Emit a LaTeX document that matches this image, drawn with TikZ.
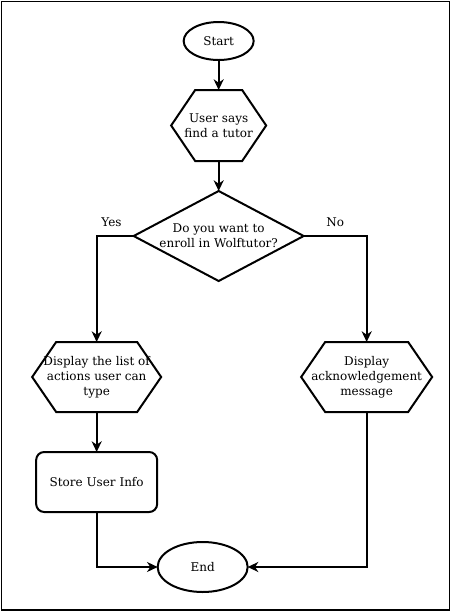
\documentclass[tikz,border=0pt]{standalone}
\usepackage{fontspec}
\setmainfont{DejaVu Serif}
\usetikzlibrary{positioning, shapes.geometric, arrows.meta}

\begin{document}
\begin{tikzpicture}[
    >={Stealth[length=8pt, width=7.5pt, inset=2.5pt]},
    line width=1.5pt,
    arrow/.style={
        ->,
        line width=1.5pt
    },
    terminal/.style={
        ellipse,
        draw,
        inner sep=0pt,
        outer sep=0pt,
        font=\fontsize{9}{11.25}\selectfont
    },
    hexa/.style={
        rectangle,
        inner sep=0pt,
        outer sep=0pt,
        minimum height=52.5pt,
        align=center,
        font=\fontsize{9}{11.25}\selectfont,
        append after command={
            \pgfextra{
                \draw[line width=1.5pt, line join=miter]
                    (\tikzlastnode.west)
                    -- ([xshift=18pt]\tikzlastnode.north west)
                    -- ([xshift=-18pt]\tikzlastnode.north east)
                    -- (\tikzlastnode.east)
                    -- ([xshift=-18pt]\tikzlastnode.south east)
                    -- ([xshift=18pt]\tikzlastnode.south west)
                    -- cycle;
            }
        }
    },
    decision/.style={
        diamond,
        draw,
        aspect=1.89,
        inner sep=0pt,
        outer sep=0pt,
        minimum width=127.5pt,
        minimum height=67.5pt,
        align=center,
        font=\fontsize{9}{11.25}\selectfont
    },
    process/.style={
        rectangle,
        draw,
        rounded corners=6pt,
        outer sep=0pt,
        minimum width=90.75pt,
        minimum height=45pt,
        align=center,
        font=\fontsize{9}{11.25}\selectfont
    },
    branch/.style={
        font=\fontsize{9}{11.25}\selectfont
    }
]

    \useasboundingbox (0,0) rectangle (339pt,-459pt);
    \draw[line width=1pt] (1.1pt,-1.1pt) rectangle (337.2pt,-457.6pt);

    % Start
    \node[terminal, minimum width=52.5pt, minimum height=28.5pt] (start) at (164pt,-30.75pt) {Start};

    % Request
    \node[hexa, below=22.5pt of start, minimum width=71.25pt, minimum height=53.25pt] (ask) {User says\\find a tutor};
    \draw[arrow] (start) -- (ask);

    % Decision
    \node[decision, below=22.5pt of ask] (enroll) {Do you want to\\enroll in Wolftutor?};
    \draw[arrow] (ask) -- (enroll);

    % --- Yes branch ---
    \node[hexa, below=45.75pt of enroll, xshift=-91.5pt, minimum width=96.75pt] (actions) {Display the list of\\actions user can\\type};
    \draw[arrow] (enroll.west) -| node[branch, pos=0.3, above=3pt]{Yes} (actions.north);

    \node[process, below=30pt of actions] (store) {Store User Info};
    \draw[arrow] (actions) -- (store);

    % --- No branch ---
    \node[hexa, below=45.75pt of enroll, xshift=111pt, minimum width=98.25pt] (ack) {Display\\acknowledgement\\message};
    \draw[arrow] (enroll.east) -| node[branch, pos=0.25, above=3pt]{No} (ack.north);

    % End
    \node[terminal, below=22.5pt of store, xshift=79.5pt, minimum width=67.5pt, minimum height=37.5pt] (end) {End};
    \draw[arrow] (store.south) |- (end.west);
    \draw[arrow] (ack.south) |- (end.east);

\end{tikzpicture}
\end{document}
